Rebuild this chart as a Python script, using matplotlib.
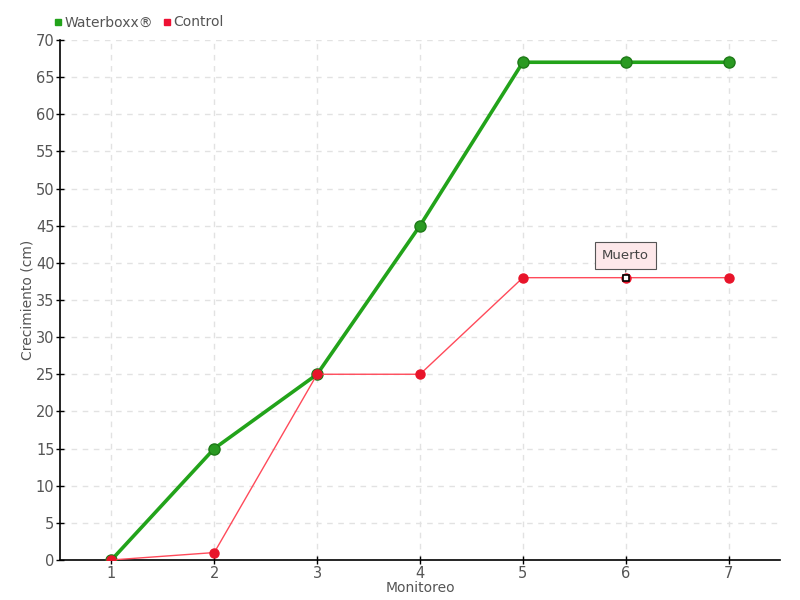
import matplotlib.pyplot as plt
from matplotlib.lines import Line2D

plt.rcParams['font.family'] = ['DejaVu Sans']

monitoreo = [1, 2, 3, 4, 5, 6, 7]
waterboxx = [0, 15, 25, 45, 67, 67, 67]
control = [0, 1, 25, 25, 38, 38, 38]
yticks = list(range(0, 75, 5))

txt = '#555555'
fig = plt.figure(figsize=(8, 6), dpi=100)
ax = fig.add_axes([0.075, 0.0667, 0.9, 0.8667])

ax.plot(monitoreo, waterboxx, color='#22a31a', lw=2.6, marker='o', ms=8,
        mfc='#2a9a22', mec='#1e7a18', mew=1, zorder=3)
ax.plot(monitoreo, control, color='#ff4a5a', lw=1, marker='o', ms=6.5,
        mfc='#e8142a', mec='#e8142a', zorder=4)

# punto "Muerto"
ax.plot(monitoreo[5], control[5], marker='s', ms=4, mfc='white', mec='black',
        mew=1.2, zorder=6)
ax.annotate('Muerto', xy=(monitoreo[5], control[5]), xytext=(0, 16),
            textcoords='offset points', ha='center', va='center',
            fontsize=9.5, color='#444444',
            bbox=dict(boxstyle='square,pad=0.55', fc='#fde8ea', ec='#555555', lw=0.8),
            arrowprops=dict(arrowstyle='-', color='#555555', lw=0.8, shrinkA=0, shrinkB=4),
            zorder=7)

ax.set_xlim(0.5, 7.5)
ax.set_ylim(0, 70)
ax.set_xticks(monitoreo)
ax.set_yticks(yticks)
ax.grid(True, color='#e2e2e2', ls=(0, (4, 4)), lw=1)
ax.set_axisbelow(True)
for s in ['top', 'right']:
    ax.spines[s].set_visible(False)
ax.spines['left'].set_linewidth(1.2)
ax.spines['bottom'].set_linewidth(1.2)
ax.tick_params(direction='inout', length=6, width=1, labelsize=10.5, labelcolor=txt, pad=1)

ax.set_xlabel('Monitoreo', fontsize=10, color=txt, labelpad=0.5)
ax.set_ylabel('Crecimiento (cm)', fontsize=10, color=txt, labelpad=1)

handles = [Line2D([], [], ls='', marker='s', ms=5, color='#22a31a'),
           Line2D([], [], ls='', marker='s', ms=5, color='#ee1133')]
fig.legend(handles, ['Waterboxx®', 'Control'], loc='upper left',
           bbox_to_anchor=(0.05, 0.995), ncol=2, frameon=False, fontsize=10,
           handletextpad=0.05, columnspacing=0.6, labelcolor=txt, handlelength=0.8)

fig.savefig('out.png', dpi=100)
